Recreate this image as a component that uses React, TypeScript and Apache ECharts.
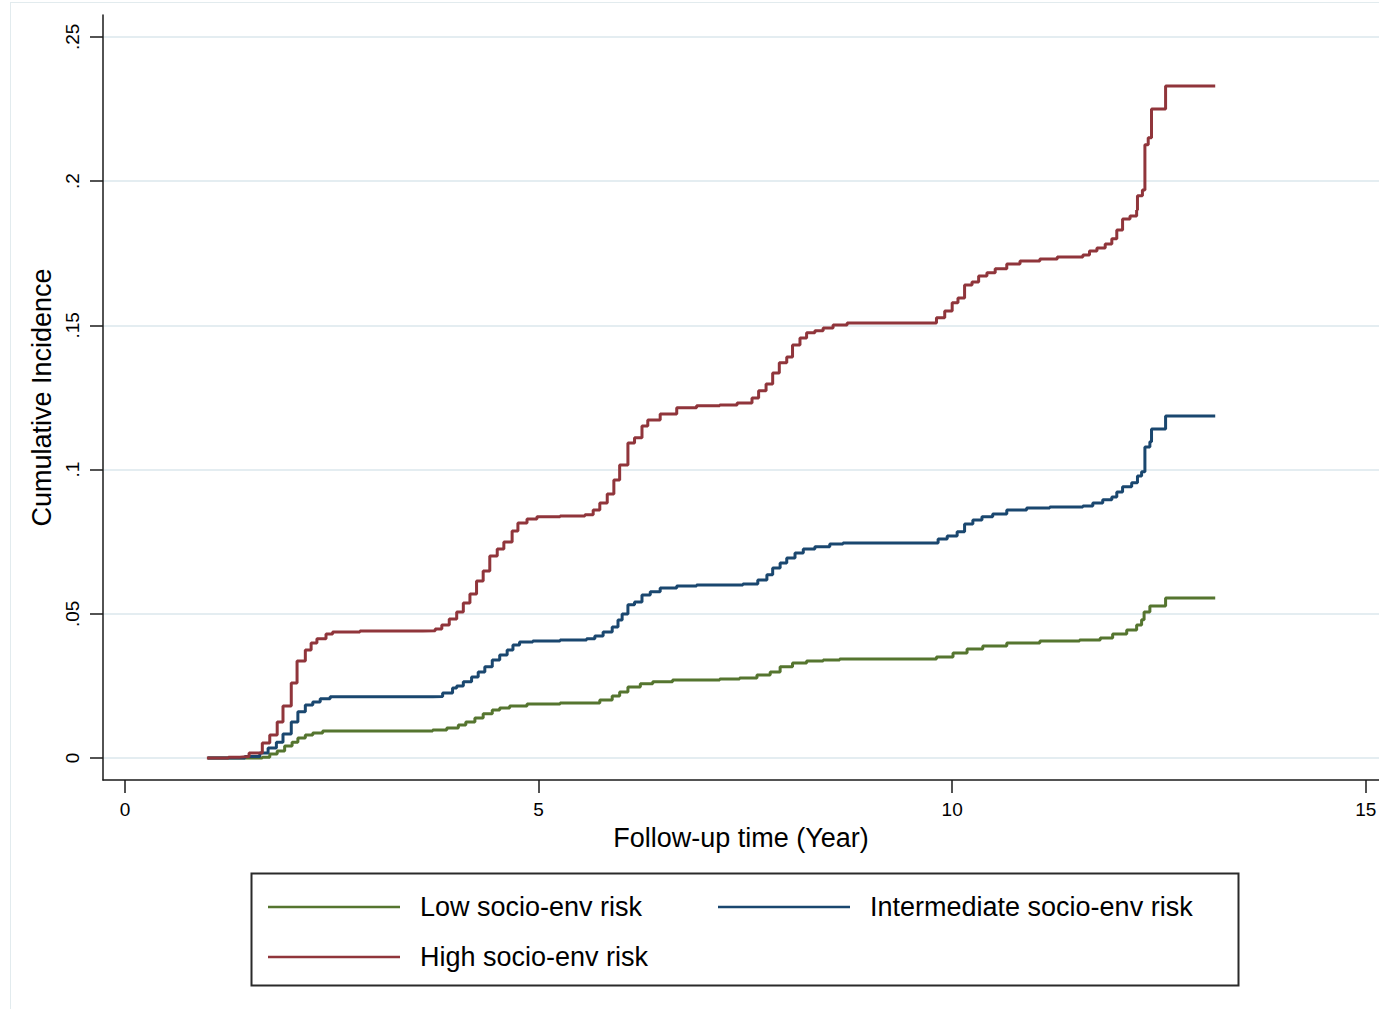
import React, { useEffect, useRef } from "react";
import * as echarts from "echarts";

// Follow-up time (years) and cumulative incidence
const lowRisk: [number, number][] = [
  [1.0, 0], [1.51, 0.0], [1.66, 0.0003], [1.75, 0.0014], [1.84, 0.0024], [1.93, 0.0042],
  [2.02, 0.0055], [2.09, 0.0069], [2.18, 0.008], [2.27, 0.0087], [2.39, 0.0094], [2.51, 0.0094],
  [3.72, 0.0097], [3.89, 0.0104], [4.03, 0.0114], [4.12, 0.0125], [4.23, 0.0139], [4.33, 0.0153],
  [4.44, 0.0166], [4.53, 0.0173], [4.65, 0.018], [4.86, 0.0187], [5.26, 0.0191], [5.58, 0.0191],
  [5.74, 0.0201], [5.89, 0.0215], [5.98, 0.0229], [6.08, 0.0246], [6.23, 0.0257], [6.38, 0.0264],
  [6.62, 0.027], [7.19, 0.0274], [7.43, 0.0277], [7.64, 0.0288], [7.8, 0.0298], [7.92, 0.0316],
  [8.07, 0.0329], [8.24, 0.0336], [8.44, 0.034], [8.64, 0.0343], [9.65, 0.0343], [9.81, 0.035],
  [10.01, 0.0364], [10.18, 0.0378], [10.37, 0.0388], [10.66, 0.0399], [11.06, 0.0406], [11.54, 0.0409],
  [11.79, 0.0416], [11.94, 0.043], [12.11, 0.0444], [12.23, 0.0461], [12.29, 0.0479], [12.32, 0.0506],
  [12.39, 0.0527], [12.58, 0.0555], [13.18, 0.0555],
];

const intermediateRisk: [number, number][] = [
  [1.0, 0], [1.45, 0.0005], [1.63, 0.0017], [1.73, 0.0035], [1.83, 0.0055], [1.91, 0.0083],
  [2.01, 0.0125], [2.09, 0.016], [2.18, 0.0184], [2.27, 0.0194], [2.36, 0.0205], [2.48, 0.0212],
  [3.08, 0.0212], [3.72, 0.0213], [3.84, 0.0225], [3.96, 0.0243], [4.01, 0.025], [4.09, 0.0264],
  [4.19, 0.0281], [4.27, 0.0298], [4.35, 0.0316], [4.44, 0.034], [4.53, 0.0357], [4.62, 0.0374],
  [4.69, 0.0392], [4.77, 0.0402], [4.93, 0.0406], [5.26, 0.0409], [5.58, 0.0413], [5.68, 0.0423],
  [5.78, 0.0437], [5.89, 0.0454], [5.96, 0.0478], [6.01, 0.0499], [6.08, 0.0531], [6.16, 0.0541],
  [6.25, 0.0565], [6.35, 0.0576], [6.47, 0.0589], [6.67, 0.0596], [6.91, 0.06], [7.19, 0.06],
  [7.47, 0.0603], [7.65, 0.0617], [7.76, 0.0635], [7.83, 0.0659], [7.92, 0.0676], [8.0, 0.0693],
  [8.1, 0.0711], [8.2, 0.0725], [8.34, 0.0732], [8.52, 0.0742], [8.68, 0.0745], [9.73, 0.0745],
  [9.83, 0.0759], [9.94, 0.077], [10.06, 0.0784], [10.15, 0.0811], [10.25, 0.0825], [10.36, 0.0836],
  [10.49, 0.0846], [10.66, 0.086], [10.9, 0.0867], [11.18, 0.087], [11.58, 0.0874], [11.7, 0.0884],
  [11.82, 0.0895], [11.93, 0.0905], [11.99, 0.0922], [12.06, 0.094], [12.17, 0.0954], [12.24, 0.0978],
  [12.29, 0.0992], [12.33, 0.1078], [12.39, 0.1096], [12.41, 0.1141], [12.58, 0.1186], [13.18, 0.1186],
];

const highRisk: [number, number][] = [
  [0.99, 0], [1.25, 0.0003], [1.39, 0.0005], [1.5, 0.0017], [1.66, 0.0052], [1.75, 0.008],
  [1.84, 0.0125], [1.91, 0.018], [2.01, 0.026], [2.08, 0.0336], [2.18, 0.0374], [2.25, 0.0399],
  [2.32, 0.0413], [2.43, 0.043], [2.51, 0.0437], [2.84, 0.044], [3.6, 0.0441], [3.75, 0.0447],
  [3.83, 0.0461], [3.92, 0.0482], [4.01, 0.0506], [4.09, 0.0537], [4.17, 0.0569], [4.25, 0.0614],
  [4.33, 0.0648], [4.41, 0.07], [4.5, 0.0725], [4.58, 0.0749], [4.68, 0.0787], [4.75, 0.0815],
  [4.86, 0.0829], [4.98, 0.0836], [5.26, 0.0839], [5.56, 0.0843], [5.66, 0.086], [5.74, 0.0884],
  [5.83, 0.0915], [5.91, 0.0964], [5.98, 0.1016], [6.08, 0.1092], [6.16, 0.111], [6.25, 0.1151],
  [6.32, 0.1172], [6.47, 0.1193], [6.67, 0.1214], [6.91, 0.1221], [7.19, 0.1224], [7.4, 0.1231],
  [7.58, 0.1248], [7.66, 0.1273], [7.75, 0.1297], [7.83, 0.1335], [7.91, 0.137], [8.0, 0.139],
  [8.07, 0.1432], [8.16, 0.1456], [8.24, 0.1474], [8.34, 0.1481], [8.44, 0.1491], [8.56, 0.1501],
  [8.73, 0.1508], [9.61, 0.1508], [9.81, 0.1526], [9.91, 0.155], [10.0, 0.1578], [10.07, 0.1595],
  [10.15, 0.164], [10.24, 0.165], [10.32, 0.1671], [10.42, 0.1682], [10.52, 0.1696], [10.66, 0.1713],
  [10.82, 0.1723], [11.06, 0.173], [11.27, 0.1737], [11.58, 0.1744], [11.66, 0.1758], [11.75, 0.1768],
  [11.85, 0.1782], [11.93, 0.18], [11.99, 0.1831], [12.06, 0.1869], [12.15, 0.1879], [12.23, 0.19],
  [12.24, 0.1949], [12.3, 0.1969], [12.33, 0.2126], [12.37, 0.215], [12.41, 0.225], [12.58, 0.233],
  [13.18, 0.233],
];

const seriesNames = ["Low socio-env risk", "Intermediate socio-env risk", "High socio-env risk"];
const seriesColors = ["#55752f", "#1a476f", "#90353b"];
const xTicks = [0, 5, 10, 15];
const yTicks = [0, 0.05, 0.1, 0.15, 0.2, 0.25];

const FONT = "'Liberation Sans', Arial, Helvetica, sans-serif";

export default function App() {
  const ref = useRef<HTMLDivElement>(null);

  useEffect(() => {
    if (!ref.current) return;
    const chart = echarts.init(ref.current, null, { renderer: "svg" });
    const seriesData = [lowRisk, intermediateRisk, highRisk];

    const legendBase = (name: string, left: number, top: number) => ({
      show: true,
      data: [{ name, icon: "rect" }],
      left,
      top,
      orient: "horizontal",
      padding: 0,
      itemWidth: 132,
      itemHeight: 2.5,
      selectedMode: false,
      textStyle: {
        fontFamily: FONT,
        fontSize: 27,
        color: "#000",
        lineHeight: 28,
        padding: [0, 0, 0, 15],
      },
    });

    chart.setOption({
      animation: false,
      backgroundColor: "#ffffff",
      textStyle: { fontFamily: FONT },
      grid: {
        left: 103,
        right: 0,
        top: 15,
        bottom: 229,
        containLabel: false,
        outerBoundsMode: "none",
      },
      legend: [
        legendBase(seriesNames[0], 268, 893),
        legendBase(seriesNames[1], 718, 893),
        legendBase(seriesNames[2], 268, 943),
      ],
      xAxis: {
        type: "value",
        min: -0.266,
        max: 15.16,
        name: "Follow-up time (Year)",
        nameLocation: "middle",
        nameGap: 44,
        nameTextStyle: { fontFamily: FONT, fontSize: 27, color: "#000" },
        axisLine: { show: true, onZero: false, lineStyle: { color: "#1a1a1a", width: 1.5 } },
        axisTick: { show: true, length: 13, customValues: xTicks, lineStyle: { color: "#1a1a1a", width: 1.5 } },
        axisLabel: {
          show: true,
          customValues: xTicks,
          margin: 20,
          fontFamily: FONT,
          fontSize: 19,
          color: "#000",
          formatter: (v: number) => String(v),
        },
        splitLine: { show: false },
      },
      yAxis: {
        type: "value",
        min: -0.00763,
        max: 0.2576,
        name: "Cumulative Incidence",
        nameLocation: "middle",
        nameGap: 47,
        nameTextStyle: { fontFamily: FONT, fontSize: 27, color: "#000" },
        axisLine: { show: true, onZero: false, lineStyle: { color: "#1a1a1a", width: 1.5 } },
        axisTick: { show: true, length: 13, customValues: yTicks, lineStyle: { color: "#1a1a1a", width: 1.5 } },
        axisLabel: {
          show: true,
          customValues: yTicks,
          rotate: 90,
          margin: 21,
          fontFamily: FONT,
          fontSize: 19,
          color: "#000",
          formatter: (v: number) => (v === 0 ? "0" : String(+v.toFixed(2)).replace(/^0/, "")),
        },
        splitLine: { show: true, lineStyle: { color: "#e4edf1", width: 2 } },
      },
      graphic: [
        {
          type: "line",
          shape: { x1: 10.5, y1: 2, x2: 10.5, y2: 1009 },
          style: { stroke: "#e2ebee", lineWidth: 1 },
          silent: true,
        },
        {
          type: "line",
          shape: { x1: 10, y1: 2.5, x2: 1379, y2: 2.5 },
          style: { stroke: "#e2ebee", lineWidth: 1 },
          silent: true,
        },
        {
          type: "rect",
          shape: { x: 251.5, y: 873.5, width: 987, height: 112 },
          style: { fill: "none", stroke: "#2a2a2a", lineWidth: 2 },
          silent: true,
        },
      ],
      series: seriesNames.map((name, i) => ({
        name,
        type: "line",
        step: "end",
        data: seriesData[i],
        showSymbol: false,
        symbol: "none",
        color: seriesColors[i],
        itemStyle: { color: seriesColors[i] },
        lineStyle: { color: seriesColors[i], width: 3 },
        z: 2 + i,
      })),
    });

    return () => {
      chart.dispose();
    };
  }, []);

  return (
    <div
      ref={ref}
      style={{ position: "fixed", left: 0, top: 0, width: 1379, height: 1009, background: "#fff" }}
    />
  );
}
